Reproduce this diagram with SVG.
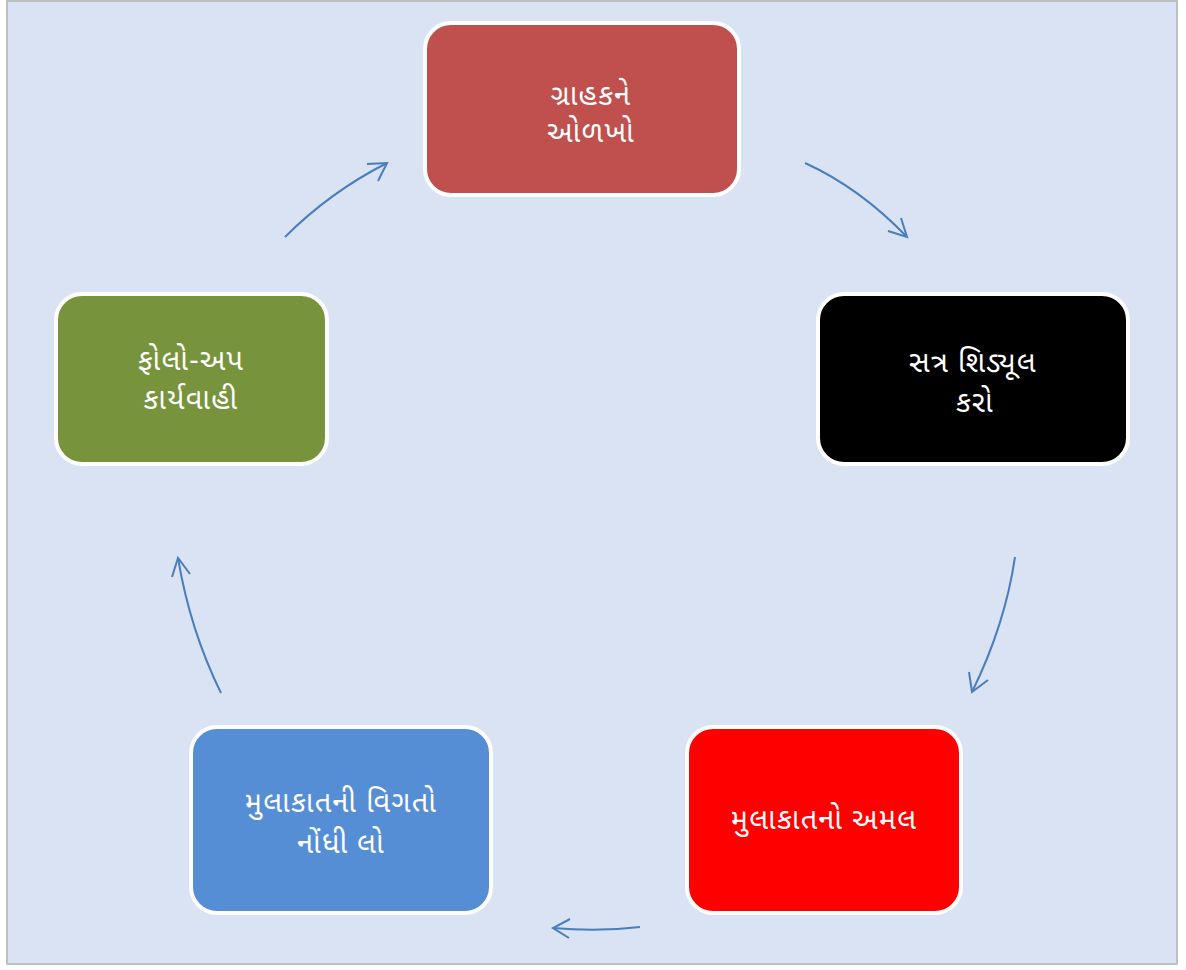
<svg xmlns="http://www.w3.org/2000/svg" width="1186" height="970" viewBox="0 0 1186 970">
<style>
.node{stroke:#fff;stroke-width:4}
.lbl{font-family:"Noto Sans","Noto Sans Gujarati","DejaVu Sans",sans-serif;font-size:29px;fill:#fff;text-anchor:middle;font-weight:400;letter-spacing:1.2px}
.conn{fill:none;stroke:#4A7EBB;stroke-width:2}
</style>
<rect x="7" y="1" width="1170" height="963" fill="#DAE3F3" stroke="#BFBFBF" stroke-width="2"/>
<g id="connectors">
<path class="conn" d="M805,163 Q860,188 907,237"/>
<path class="conn" d="M888,231 L907,237 L901,218"/>
<path class="conn" d="M1015,557 Q1005,625 972,692"/>
<path class="conn" d="M969,672 L972,692 L988,680"/>
<path class="conn" d="M640,927 Q598,932 553,928"/>
<path class="conn" d="M570,919 L553,928 L569,938"/>
<path class="conn" d="M221,693 Q190,630 178,558"/>
<path class="conn" d="M172,577 L178,558 L190,574"/>
<path class="conn" d="M285,237 Q330,192 387,163"/>
<path class="conn" d="M367,164 L387,163 L378,181"/>
</g>
<g id="node1">
<rect class="node" x="425" y="23" width="314" height="172" rx="26" fill="#C0504D"/>
<text class="lbl" x="591" y="105">ગ્રાહકને</text>
<text class="lbl" x="591" y="142">ઓળખો</text>
</g>
<g id="node2">
<rect class="node" x="818" y="294" width="310" height="170" rx="26" fill="#000000"/>
<text class="lbl" x="973" y="372">સત્ર શિડ્યૂલ</text>
<text class="lbl" x="975" y="412">કરો</text>
</g>
<g id="node3">
<rect class="node" x="687" y="727" width="274" height="186" rx="26" fill="#FF0000"/>
<text class="lbl" x="824" y="829">મુલાકાતનો અમલ</text>
</g>
<g id="node4">
<rect class="node" x="191" y="727" width="300" height="186" rx="26" fill="#558ED5"/>
<text class="lbl" x="341" y="812">મુલાકાતની વિગતો</text>
<text class="lbl" x="341" y="853">નોંધી લો</text>
</g>
<g id="node5">
<rect class="node" x="56" y="294" width="271" height="170" rx="26" fill="#77933C"/>
<text class="lbl" x="191" y="370">ફોલો-અપ</text>
<text class="lbl" x="191" y="409">કાર્યવાહી</text>
</g>
</svg>
